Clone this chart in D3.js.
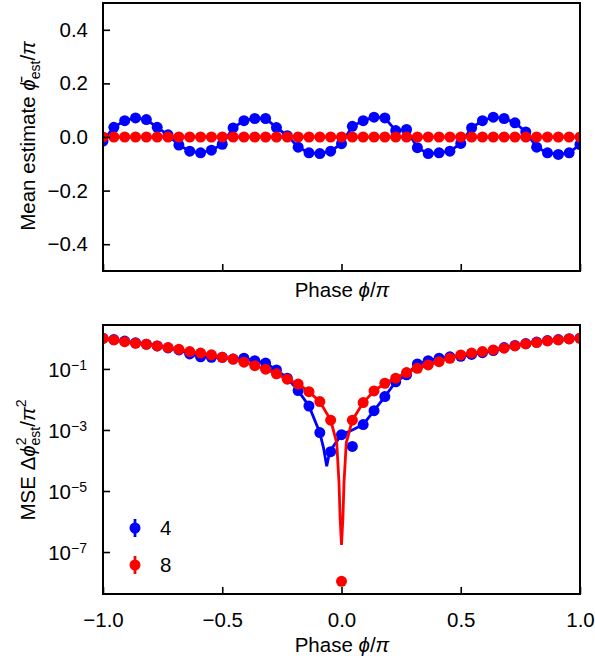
<!DOCTYPE html>
<html>
<head>
<meta charset="utf-8">
<script src="https://cdn.jsdelivr.net/npm/d3@7"></script>
<style>
  body { margin: 0; background: #fff; }
  text { font-family: "Liberation Sans", Arial, sans-serif; }
</style>
</head>
<body>
<div id="chart"></div>
<script>
// phase grid phi/pi, 45 points from -1 to 1
var phase = [-1.0000, -0.9545, -0.9091, -0.8636, -0.8182, -0.7727, -0.7273, -0.6818, -0.6364, -0.5909,
  -0.5455, -0.5000, -0.4545, -0.4091, -0.3636, -0.3182, -0.2727, -0.2273, -0.1818, -0.1364,
  -0.0909, -0.0455, 0.0000, 0.0455, 0.0909, 0.1364, 0.1818, 0.2273, 0.2727, 0.3182,
  0.3636, 0.4091, 0.4545, 0.5000, 0.5455, 0.5909, 0.6364, 0.6818, 0.7273, 0.7727,
  0.8182, 0.8636, 0.9091, 0.9545, 1.0000];

// mean estimate (top panel)
var meanBlue = [-0.015, 0.036, 0.061, 0.071, 0.065, 0.036, 0.008, -0.030, -0.053, -0.059,
  -0.049, -0.027, 0.034, 0.061, 0.069, 0.069, 0.035, 0.005, -0.038, -0.059,
  -0.062, -0.053, -0.025, 0.040, 0.061, 0.074, 0.071, 0.024, 0.028, -0.040,
  -0.062, -0.059, -0.053, -0.024, 0.034, 0.061, 0.074, 0.069, 0.053, 0.019,
  -0.038, -0.059, -0.065, -0.059, -0.028];
var meanRed = [0, 0, 0, 0, 0, 0, 0, 0, 0, 0, 0, 0, 0, 0, 0, 0, 0, 0, 0, 0, 0, 0, 0,
  0, 0, 0, 0, 0, 0, 0, 0, 0, 0, 0, 0, 0, 0, 0, 0, 0, 0, 0, 0, 0, 0];

// mean squared error (bottom panel)
var mseBlue = [1.0, 0.92, 0.82, 0.72, 0.65, 0.57, 0.49, 0.42, 0.31, 0.25,
  0.24, 0.24, 0.21, 0.224, 0.187, 0.156, 0.093, 0.050, 0.0195, 0.0061,
  8.2e-4, 1.95e-4, 7.0e-4, 2.9e-4, 1.5e-3, 4.3e-3, 0.0124, 0.038, 0.064, 0.146,
  0.187, 0.224, 0.25, 0.26, 0.30, 0.34, 0.40, 0.50, 0.59, 0.68,
  0.76, 0.85, 0.92, 0.98, 1.02];
var mseRed = [1.01, 0.89, 0.78, 0.69, 0.64, 0.57, 0.50, 0.44, 0.37, 0.33,
  0.29, 0.24, 0.21, 0.166, 0.128, 0.098, 0.069, 0.046, 0.032, 0.018,
  0.0085, 0.0021, 1.1e-8, 0.0021, 0.0079, 0.019, 0.034, 0.050, 0.076, 0.105,
  0.135, 0.173, 0.224, 0.287, 0.33, 0.37, 0.42, 0.48, 0.57, 0.66,
  0.73, 0.83, 0.89, 0.96, 1.01];

// theory curves near phi = 0 (lines follow the points elsewhere)
var curvePhaseBlue = [-0.0909, -0.075, -0.062, -0.052, -0.0455, 0.0, 0.0455, 0.0909];
var curveMseBlue = [8.2e-4, 2.5e-4, 6.5e-5, 1.6e-4, 2.2e-4, 7.0e-4, 1.0e-3, 1.5e-3];
var curvePhaseRed = [-0.0455, -0.020, -0.0105, -0.006, 0.0, 0.006, 0.0105, 0.020, 0.0455];
var curveMseRed = [0.0021, 3.8e-4, 1.9e-5, 1.4e-6, 1.7e-7, 1.4e-6, 1.9e-5, 3.8e-4, 0.0021];

var xTicks = [-1.0, -0.5, 0.0, 0.5, 1.0];
var meanTicks = [-0.4, -0.2, 0.0, 0.2, 0.4];
var mseTicks = [-7, -5, -3, -1];   // exponents
var legendLabels = ["4", "8"];
var colors = ["#0000ff", "#ff0000"];

var width = 595, height = 662;
var left = 103, right = 580;
var top1 = 3, bottom1 = 271;
var top2 = 325, bottom2 = 594;
var fs = "20.5px", fsSmall = "14px";

var svg = d3.select("#chart")
    .append("svg")
    .attr("width", width)
    .attr("height", height);

var x = d3.scaleLinear().domain([-1, 1]).range([left, right]);
var y1 = d3.scaleLinear().domain([-0.5, 0.5]).range([bottom1, top1]);
var y2 = d3.scaleLog().domain([Math.pow(10, -8.375), Math.pow(10, 0.44)]).range([bottom2, top2]);

var defs = svg.append("defs");
defs.append("clipPath").attr("id", "clip1").append("rect")
    .attr("x", left).attr("y", top1).attr("width", right - left).attr("height", bottom1 - top1);
defs.append("clipPath").attr("id", "clip2").append("rect")
    .attr("x", left).attr("y", top2).attr("width", right - left).attr("height", bottom2 - top2);

var fmt = function(v) { return d3.format(".1f")(v).replace("-", "\u2212"); };

// ---------- top panel ----------
var g1 = svg.append("g").attr("clip-path", "url(#clip1)");

var line1 = d3.line()
    .x(function(d) { return x(d[0]); })
    .y(function(d) { return y1(d[1]); });

[meanBlue, meanRed].forEach(function(series, s) {
  var pts = phase.map(function(p, i) { return [p, series[i]]; });
  g1.append("path")
    .datum(pts)
    .attr("fill", "none")
    .attr("stroke", colors[s])
    .attr("stroke-width", 2.8)
    .attr("d", line1);
  g1.selectAll(null)
    .data(pts)
    .enter().append("circle")
    .attr("cx", function(d) { return x(d[0]); })
    .attr("cy", function(d) { return y1(d[1]); })
    .attr("r", 5.5)
    .attr("fill", colors[s]);
});

// top axes
svg.append("g")
  .attr("transform", "translate(" + left + ",0)")
  .call(d3.axisLeft(y1).tickValues(meanTicks).tickSize(-7).tickPadding(15).tickFormat(fmt))
  .call(function(g) { g.select(".domain").remove(); });
svg.append("g")
  .attr("transform", "translate(0," + bottom1 + ")")
  .call(d3.axisBottom(x).tickValues(xTicks).tickSize(-7).tickFormat(""))
  .call(function(g) { g.select(".domain").remove(); });

svg.append("rect")
  .attr("x", left).attr("y", top1)
  .attr("width", right - left).attr("height", bottom1 - top1)
  .attr("fill", "none").attr("stroke", "#000").attr("stroke-width", 2);

// ---------- bottom panel ----------
var g2 = svg.append("g").attr("clip-path", "url(#clip2)");

var line2 = d3.line()
    .x(function(d) { return x(d[0]); })
    .y(function(d) { return y2(d[1]); });

var curves = [[curvePhaseBlue, curveMseBlue], [curvePhaseRed, curveMseRed]];

[mseBlue, mseRed].forEach(function(series, s) {
  var pts = phase.map(function(p, i) { return [p, series[i]]; });
  var cp = curves[s][0], cv = curves[s][1];
  var linePts = pts.filter(function(d) { return d[0] < cp[0] - 1e-6 || d[0] > cp[cp.length - 1] + 1e-6; })
    .concat(cp.map(function(p, i) { return [p, cv[i]]; }))
    .sort(function(a, b) { return a[0] - b[0]; });
  g2.append("path")
    .datum(linePts)
    .attr("fill", "none")
    .attr("stroke", colors[s])
    .attr("stroke-width", 2.8)
    .attr("d", line2);
  g2.selectAll(null)
    .data(pts)
    .enter().append("circle")
    .attr("cx", function(d) { return x(d[0]); })
    .attr("cy", function(d) { return y2(d[1]); })
    .attr("r", 5.5)
    .attr("fill", colors[s]);
});

// bottom axes
var yAx = svg.append("g")
  .attr("transform", "translate(" + left + ",0)")
  .call(d3.axisLeft(y2).tickValues(mseTicks.map(function(e) { return Math.pow(10, e); })).tickSize(-7).tickFormat(""))
  .call(function(g) { g.select(".domain").remove(); });
yAx.selectAll(".tick").each(function(d, i) {
  var t = d3.select(this).append("text")
    .attr("x", -16).attr("dy", "0.35em")
    .attr("fill", "#000")
    .attr("text-anchor", "end")
    .style("font-size", fs);
  t.append("tspan").text("10");
  t.append("tspan").attr("dy", "-0.5em").style("font-size", fsSmall).text("\u2212" + Math.abs(mseTicks[i]));
});

svg.append("g")
  .attr("transform", "translate(0," + bottom2 + ")")
  .call(d3.axisBottom(x).tickValues(xTicks).tickSize(-7).tickPadding(18).tickFormat(fmt))
  .call(function(g) { g.select(".domain").remove(); });

svg.append("rect")
  .attr("x", left).attr("y", top2)
  .attr("width", right - left).attr("height", bottom2 - top2)
  .attr("fill", "none").attr("stroke", "#000").attr("stroke-width", 2);

svg.selectAll(".tick line").attr("stroke", "#000").attr("stroke-width", 1.6);
svg.selectAll(".tick text").style("font-size", fs).attr("fill", "#000");
svg.selectAll(".tick tspan").filter(function(d, i) { return d3.select(this).attr("dy"); }).style("font-size", fsSmall);

// legend
legendLabels.forEach(function(lab, i) {
  var ly = 528 + i * 37;
  svg.append("line")
    .attr("x1", 135).attr("x2", 135).attr("y1", ly - 9).attr("y2", ly + 9)
    .attr("stroke", colors[i]).attr("stroke-width", 2.8);
  svg.append("circle").attr("cx", 135).attr("cy", ly).attr("r", 5.5).attr("fill", colors[i]);
  svg.append("text").attr("x", 160).attr("y", ly).attr("dy", "0.35em")
    .style("font-size", fs).text(lab);
});

// axis labels
function phaseLabel(yy) {
  var t = svg.append("text").attr("x", 342).attr("y", yy)
    .attr("text-anchor", "middle").style("font-size", fs);
  t.append("tspan").text("Phase ");
  t.append("tspan").style("font-style", "italic").text("\u03d5");
  t.append("tspan").text("/");
  t.append("tspan").style("font-style", "italic").text("\u03c0");
}
phaseLabel(297);
phaseLabel(652);

var lab1 = svg.append("text")
  .attr("transform", "translate(35,136) rotate(-90)")
  .attr("text-anchor", "middle").style("font-size", fs);
lab1.append("tspan").text("Mean estimate ");
lab1.append("tspan").style("font-style", "italic").text("\u03d5\u0304");
lab1.append("tspan").attr("dy", "5").style("font-size", fsSmall).text("est");
lab1.append("tspan").attr("dy", "-5").text("/");
lab1.append("tspan").style("font-style", "italic").text("\u03c0");

var lab2 = svg.append("text")
  .attr("transform", "translate(35,460) rotate(-90)")
  .attr("text-anchor", "middle").style("font-size", fs);
lab2.append("tspan").text("MSE \u0394");
lab2.append("tspan").style("font-style", "italic").text("\u03d5");
lab2.append("tspan").attr("dy", "-9").style("font-size", fsSmall).text("2");
lab2.append("tspan").attr("dx", "-8").attr("dy", "14").style("font-size", fsSmall).text("est");
lab2.append("tspan").attr("dy", "-5").text("/");
lab2.append("tspan").style("font-style", "italic").text("\u03c0");
lab2.append("tspan").attr("dy", "-9").style("font-size", fsSmall).text("2");
</script>
</body>
</html>
